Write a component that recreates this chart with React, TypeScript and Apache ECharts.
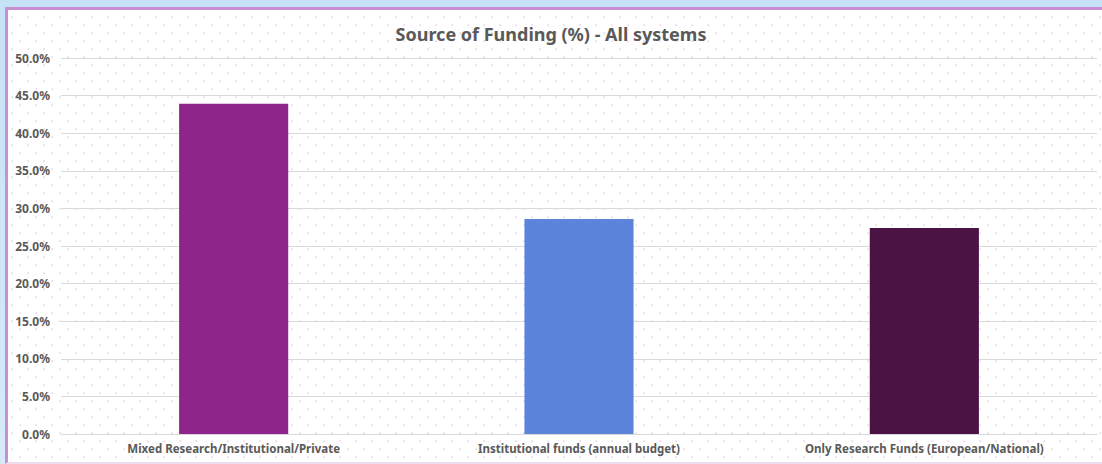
import React, { useEffect, useRef } from "react";
import * as echarts from "echarts";

const categories = [
  "Mixed Research/Institutional/Private",
  "Institutional funds (annual budget)",
  "Only Research Funds (European/National)",
];
const values = [43.9, 28.6, 27.4];
const barColors = ["#8E258A", "#5B84DA", "#4A1344"];
const titleText = "Source of Funding (%) - All systems";

const FONT = "'Noto Sans', sans-serif";

const dotTile =
  "url(\"data:image/svg+xml;utf8," +
  encodeURIComponent(
    "<svg xmlns='http://www.w3.org/2000/svg' width='16' height='16'><rect x='3.5' y='0.5' width='1.3' height='1.3' fill='#c9c9c9'/><rect x='11.5' y='8.5' width='1.3' height='1.3' fill='#d8bfd8'/></svg>"
  ) +
  "\")";

export default function App() {
  const ref = useRef<HTMLDivElement>(null);
  useEffect(() => {
    if (!ref.current) return;
    const chart = echarts.init(ref.current, null, { renderer: "svg" });
    chart.setOption({
      animation: false,
      backgroundColor: "transparent",
      title: {
        text: titleText,
        left: "center",
        top: 20,
        textStyle: {
          fontFamily: FONT,
          fontSize: 18,
          fontWeight: "bold",
          color: "#595959",
        },
      },
      grid: { left: 61, right: 5, top: 58, bottom: 30, containLabel: false },
      xAxis: {
        type: "category",
        data: categories,
        axisLine: { lineStyle: { color: "#d9d9d9", width: 1 } },
        axisTick: { show: false },
        axisLabel: {
          fontFamily: FONT,
          fontSize: 11.5,
          fontWeight: "bold",
          color: "#595959",
          margin: 8,
          interval: 0,
        },
      },
      yAxis: {
        type: "value",
        min: 0,
        max: 50,
        interval: 5,
        axisLine: { show: false },
        axisTick: { show: false },
        splitLine: { lineStyle: { color: "#d9d9d9", width: 1 } },
        axisLabel: {
          fontFamily: FONT,
          fontSize: 12,
          fontWeight: "bold",
          color: "#595959",
          margin: 11,
          formatter: (v: number) => v.toFixed(1) + "%",
        },
      },
      series: [
        {
          type: "bar",
          data: values.map((v, i) => ({ value: v, itemStyle: { color: barColors[i] } })),
          barWidth: "31.6%",
        },
      ],
    });
    return () => chart.dispose();
  }, []);

  return (
    <div
      style={{
        position: "fixed",
        left: 0,
        top: 0,
        width: 1102,
        height: 464,
        overflow: "hidden",
        background: "linear-gradient(180deg, #c6e2f7 0%, #d6eaf9 100%)",
      }}
    >
      <div
        style={{
          position: "absolute",
          left: 5,
          top: 7,
          width: 1102,
          height: 452,
          borderLeft: "3px solid #c98fd3",
          borderTop: "3px solid #c98fd3",
          borderBottom: "2px solid #efdcef",
          backgroundColor: "#ffffff",
          backgroundImage: dotTile,
          backgroundPosition: "0px 6px",
        }}
      />
      <div
        ref={ref}
        style={{ position: "absolute", left: 0, top: 0, width: 1102, height: 464 }}
      />
    </div>
  );
}
